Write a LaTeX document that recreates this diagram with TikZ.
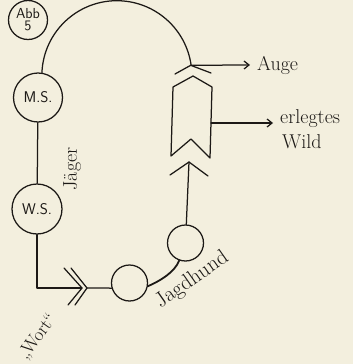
\documentclass[tikz,border=0pt]{standalone}
\usepackage{fontspec}
\usetikzlibrary{arrows.meta}
\definecolor{paper}{RGB}{243,239,222}
\definecolor{ink}{RGB}{28,25,22}
\begin{document}
\begin{tikzpicture}[x=1pt,y=-1pt,
  wire/.style={draw=ink, line width=1.25pt, line cap=round, line join=round},
  arr/.style={wire, -{Straight Barb[length=5pt,width=8pt]}},
  stage/.style={circle, draw=ink, line width=1.25pt, inner sep=0pt, minimum size=49pt, text=ink,
    font=\sffamily\fontsize{15.5}{15.5}\selectfont\addfontfeatures{FakeBold=0.6}},
  relay/.style={circle, draw=ink, line width=1.25pt, inner sep=0pt, minimum size=36pt},
  lbl/.style={inner sep=0pt, text=ink, font=\fontsize{20}{24}\selectfont\addfontfeatures{FakeBold=1}}]
\fill[paper] (0,0) rectangle (353,364);
\useasboundingbox (0,0) rectangle (353,364);
% circles
\node[stage, minimum size=39pt, align=center, font=\sffamily\fontsize{14.5}{12}\selectfont\addfontfeatures{FakeBold=0.6}] (abb) at (28,20) {Abb\\5};
\node[stage] (MS) at (38,97.5) {M.S.};
\node[stage, minimum size=50pt] (WS) at (37,209) {W.S.};
\node[relay] (MC) at (129.5,283) {};
\node[relay] (RC) at (185.5,243) {};
% coordinates
\coordinate (ap1) at (190.7,65.3);
\coordinate (c1l) at (175,74);
\coordinate (c1r) at (211,73);
\coordinate (b1) at (193,76);
\coordinate (b2) at (212,87);
\coordinate (b3) at (210,158);
\coordinate (b4) at (191,139);
\coordinate (b5) at (171,156);
\coordinate (b6) at (173,87);
\coordinate (bR) at (211,123);
\coordinate (ap2) at (189,162);
\coordinate (c2l) at (170,175);
\coordinate (c2r) at (208,176);
\coordinate (dA) at (82,288);
\coordinate (dB) at (87,288);
% labels
\node[lbl, anchor=base west] (auge) at (257,70) {Auge};
\node[lbl, anchor=base west] (erl) at (280,123) {erlegtes};
\node[lbl, anchor=base west] (wild) at (282,148) {Wild};
\node[lbl, rotate=90] (jaeger) at (72,169) {Jäger};
\node[lbl, rotate=35, font=\fontsize{21.5}{24}\selectfont\addfontfeatures{FakeBold=1}] (jagd) at (192,280) {Jagdhund};
\node[lbl, rotate=54, font=\fontsize{18.5}{20}\selectfont\addfontfeatures{FakeBold=1}] (wort) at (38,337) {„Wort“};
% connectors
\draw[wire] (MS) -- (WS);
\draw[wire] (MS.81.5) arc[start angle=182.3, end angle=351.6, radius=75];
\draw[wire] (c1l) -- (ap1) -- (c1r);
\draw[arr] (ap1) -- ([xshift=-7pt]auge.west);
\draw[wire] (b1) -- (b2) -- (b3) -- (b4) -- (b5) -- (b6) -- cycle;
\draw[arr] (bR) -- ([xshift=-7pt]bR -| erl.west);
\draw[wire] (c2l) -- (ap2) -- (c2r);
\draw[wire] (ap2) -- (RC);
\draw[wire, line width=1.8pt] (MC.-10) .. controls (160,281) and (175,272) .. (RC.-110);
\draw[wire] (WS.south) -- (WS.south |- dA) -- (dA);
\draw[wire] (64,268) -- (dA) -- (68,305);
\draw[wire] (71,268) -- (dB) -- (75,305);
\draw[wire] (dB) -- (MC.196);
\end{tikzpicture}
\end{document}
